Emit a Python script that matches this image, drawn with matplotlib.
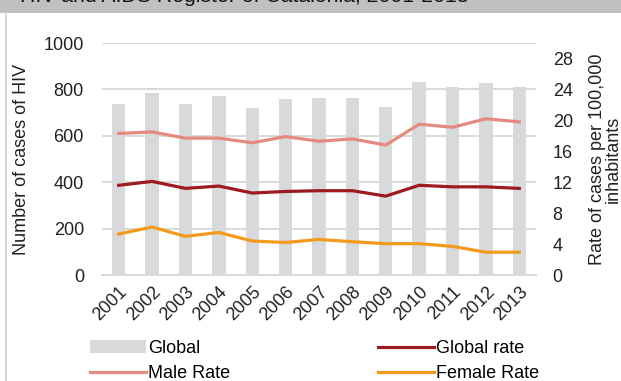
import matplotlib.pyplot as plt
from matplotlib.patches import Rectangle
from matplotlib.lines import Line2D

plt.rcParams['font.family'] = ['Liberation Sans', 'DejaVu Sans']

years = ['2001', '2002', '2003', '2004', '2005', '2006', '2007',
         '2008', '2009', '2010', '2011', '2012', '2013']
global_cases = [738, 784, 738, 770, 721, 760, 764, 762, 726, 832, 810, 827, 810]
global_rate = [11.6, 12.1, 11.2, 11.5, 10.6, 10.8, 10.9, 10.9, 10.2, 11.6, 11.4, 11.4, 11.2]
male_rate = [18.3, 18.5, 17.7, 17.7, 17.1, 17.9, 17.3, 17.6, 16.8, 19.5, 19.1, 20.2, 19.8]
female_rate = [5.3, 6.2, 5.0, 5.5, 4.4, 4.2, 4.6, 4.3, 4.05, 4.05, 3.7, 2.95, 2.95]

c_bar = '#d8d9db'
c_global = '#9c1a20'
c_male = '#e58a80'
c_female = '#f39a1c'
txt = '#222222'

fig = plt.figure(figsize=(6.21, 3.81), dpi=100)

# header strip with the title running off the top edge
fig.patches.append(Rectangle((0, 1 - 12.5 / 381), 1, 12.5 / 381, transform=fig.transFigure,
                             facecolor='#c0c0c0', edgecolor='none', zorder=0))
fig.text(20 / 621, 1 - 2.5 / 381, 'HIV and AIDS Register of Catalonia, 2001-2013',
         fontsize=15.3, va='baseline', ha='left', color='#111111')
fig.lines.append(Line2D([6 / 621, 6 / 621], [0, 1 - 12.5 / 381], transform=fig.transFigure,
                        color='#cfcfcf', lw=1.2))

ax = fig.add_axes([102 / 621, 106 / 381, 434 / 621, 232 / 381])
x = list(range(len(years)))
bars = ax.bar(x, global_cases, width=0.4, color=c_bar, zorder=2)
ax.set_ylim(0, 1000)
ax.set_yticks(range(0, 1001, 200))
ax.set_xlim(-0.5, len(years) - 0.5)
ax.set_xticks(x)
ax.set_xticklabels(years, rotation=45, ha='right', rotation_mode='anchor')
ax.grid(axis='y', color='#d9d9d9', lw=1.4, zorder=0)
ax.set_axisbelow(True)
for s in ['top', 'right', 'left']:
    ax.spines[s].set_visible(False)
ax.spines['bottom'].set_color('#d9d9d9')
ax.spines['bottom'].set_linewidth(1.4)
ax.tick_params(length=0, labelsize=13, colors=txt)
ax.tick_params(axis='y', pad=13)
ax.tick_params(axis='x', pad=6)
ax.set_ylabel('Number of cases of HIV', fontsize=13, color=txt, labelpad=10)

ax2 = ax.twinx()
l1, = ax2.plot(x, global_rate, color=c_global, lw=2.3, zorder=3)
l2, = ax2.plot(x, male_rate, color=c_male, lw=2.3, zorder=3)
l3, = ax2.plot(x, female_rate, color=c_female, lw=2.3, zorder=3)
ax2.set_ylim(0, 30)
ax2.set_yticks(range(0, 29, 4))
for s in ax2.spines.values():
    s.set_visible(False)
ax2.tick_params(length=0, labelsize=13, colors=txt, pad=12)
ax2.set_ylabel('Rate of cases per 100,000\ninhabitants', fontsize=13, color=txt,
               labelpad=12, linespacing=0.85)

fig.legend([bars, l2, l1, l3], ['Global', 'Male Rate', 'Global rate', 'Female Rate'],
           ncol=2, loc='upper left', bbox_to_anchor=(90 / 621, 1 - 340 / 381),
           frameon=False, fontsize=13, handlelength=3.1, handleheight=0.7,
           handletextpad=0.1, columnspacing=8.2, labelspacing=0.45,
           borderpad=0, borderaxespad=0)

fig.savefig('out.png', dpi=100)
